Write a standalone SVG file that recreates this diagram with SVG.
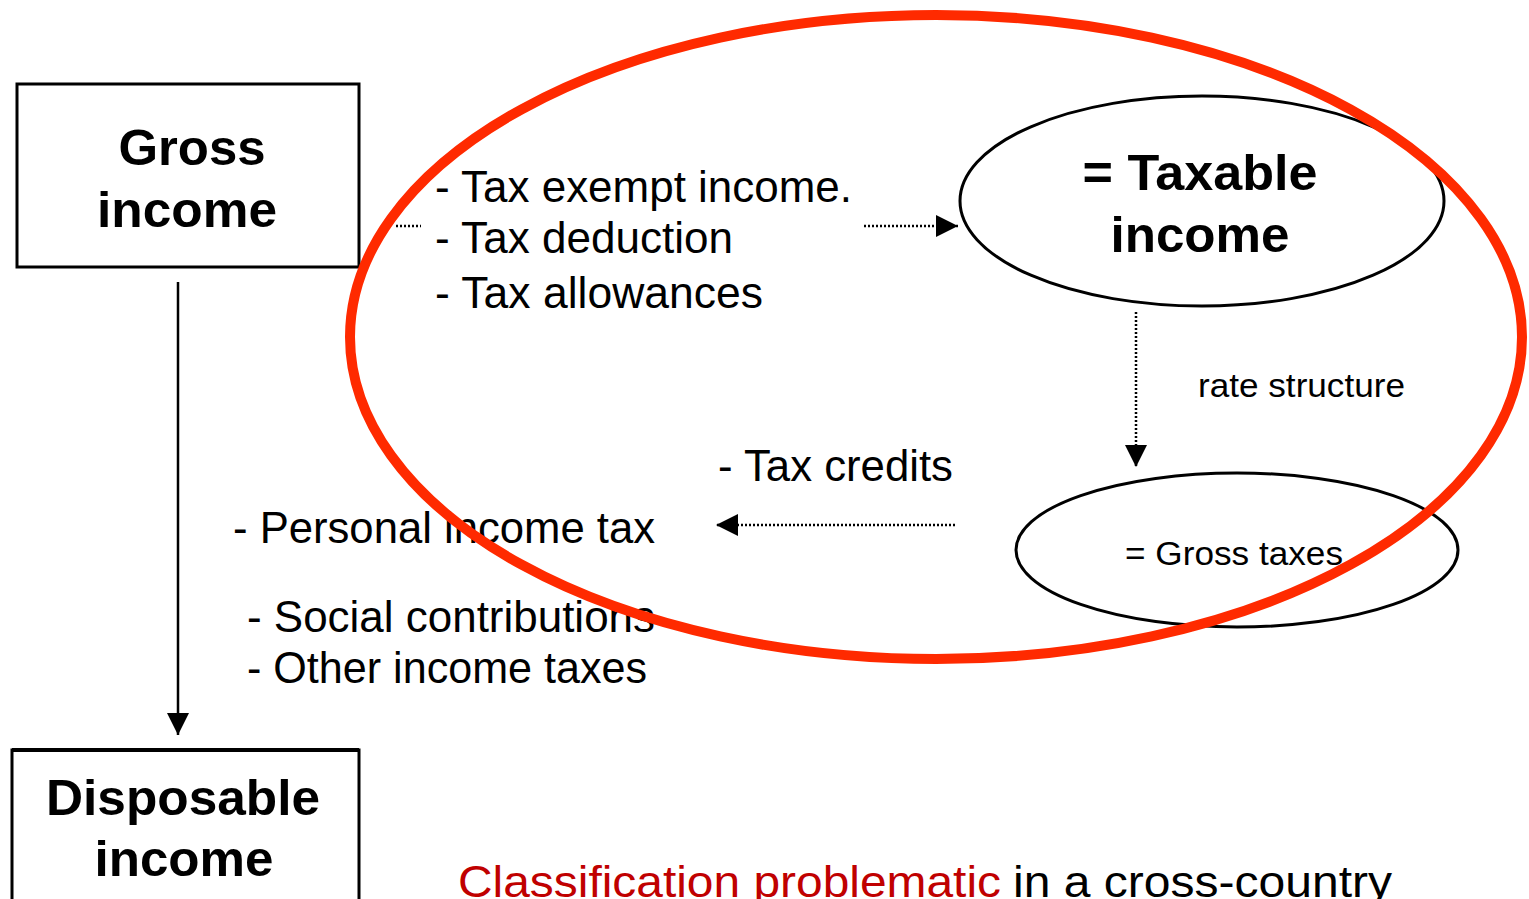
<svg xmlns="http://www.w3.org/2000/svg" width="1529" height="899" viewBox="0 0 1529 899">
<style>
.t{font-family:"Liberation Sans",Arial,sans-serif;font-size:44px;fill:#000}
.b{font-family:"Liberation Sans",Arial,sans-serif;font-size:50px;font-weight:bold;fill:#000}
.s{font-family:"Liberation Sans",Arial,sans-serif;font-size:34px;fill:#000}
.box{fill:#fff;stroke:#000;stroke-width:3}
.dot{stroke:#000;stroke-width:2.5;stroke-dasharray:2 2;fill:none}
</style>
<defs>
<marker id="ah" viewBox="0 0 10 10" refX="10" refY="5" markerWidth="22" markerHeight="22" markerUnits="userSpaceOnUse" orient="auto">
<path d="M0,0 L10,5 L0,10 z" fill="#000"/>
</marker>
</defs>
<rect width="1529" height="899" fill="#fff"/>
<g id="gross-income">
<rect class="box" x="17" y="84" width="342" height="183"/>
<text class="b" x="192" y="165" text-anchor="middle" textLength="147" lengthAdjust="spacingAndGlyphs">Gross</text>
<text class="b" x="187" y="227" text-anchor="middle" textLength="180" lengthAdjust="spacingAndGlyphs">income</text>
</g>
<g id="disposable-income">
<rect class="box" x="12" y="750" width="347" height="170"/>
<line x1="12" y1="750" x2="359" y2="750" stroke="#000" stroke-width="4"/>
<text class="b" x="183" y="815" text-anchor="middle" textLength="274" lengthAdjust="spacingAndGlyphs">Disposable</text>
<text class="b" x="184" y="876" text-anchor="middle" textLength="179" lengthAdjust="spacingAndGlyphs">income</text>
</g>
<g id="taxable-income">
<ellipse cx="1202" cy="201" rx="242" ry="105" fill="#fff" stroke="#000" stroke-width="3"/>
<text class="b" x="1200" y="190" text-anchor="middle" textLength="235" lengthAdjust="spacingAndGlyphs">= Taxable</text>
<text class="b" x="1200" y="252" text-anchor="middle" textLength="179" lengthAdjust="spacingAndGlyphs">income</text>
</g>
<g id="gross-taxes">
<ellipse cx="1237" cy="550" rx="221" ry="77" fill="#fff" stroke="#000" stroke-width="3"/>
<text class="s" x="1234" y="565" text-anchor="middle" textLength="218" lengthAdjust="spacingAndGlyphs">= Gross taxes</text>
</g>
<g id="connectors">
<line x1="178" y1="282" x2="178" y2="735" stroke="#000" stroke-width="2.5" marker-end="url(#ah)"/>
<line class="dot" x1="396" y1="226" x2="421" y2="226"/>
<line class="dot" x1="864" y1="226" x2="958" y2="226" marker-end="url(#ah)"/>
<line class="dot" x1="1136" y1="312" x2="1136" y2="467" marker-end="url(#ah)"/>
<line class="dot" x1="955" y1="525" x2="716" y2="525" marker-end="url(#ah)"/>
</g>
<g id="labels">
<text class="t" x="435" y="202" textLength="417" lengthAdjust="spacingAndGlyphs">- Tax exempt income.</text>
<text class="t" x="435" y="253" textLength="298" lengthAdjust="spacingAndGlyphs">- Tax deduction</text>
<text class="t" x="435" y="308" textLength="328" lengthAdjust="spacingAndGlyphs">- Tax allowances</text>
<text class="s" x="1198" y="397" textLength="207" lengthAdjust="spacingAndGlyphs">rate structure</text>
<text class="t" x="718" y="481" textLength="235" lengthAdjust="spacingAndGlyphs">- Tax credits</text>
<text class="t" x="233" y="543" textLength="422" lengthAdjust="spacingAndGlyphs">- Personal income tax</text>
<text class="t" x="247" y="632" textLength="408" lengthAdjust="spacingAndGlyphs">- Social contributions</text>
<text class="t" x="247" y="683" textLength="400" lengthAdjust="spacingAndGlyphs">- Other income taxes</text>
<text class="t" x="458" y="897"><tspan fill="#c00000" textLength="543" lengthAdjust="spacingAndGlyphs">Classification problematic</tspan><tspan x="1013" textLength="379" lengthAdjust="spacingAndGlyphs">in a cross-country</tspan></text>
</g>
<ellipse id="highlight" cx="936" cy="337" rx="586" ry="322" fill="none" stroke="#ff2a00" stroke-width="10"/>
</svg>
